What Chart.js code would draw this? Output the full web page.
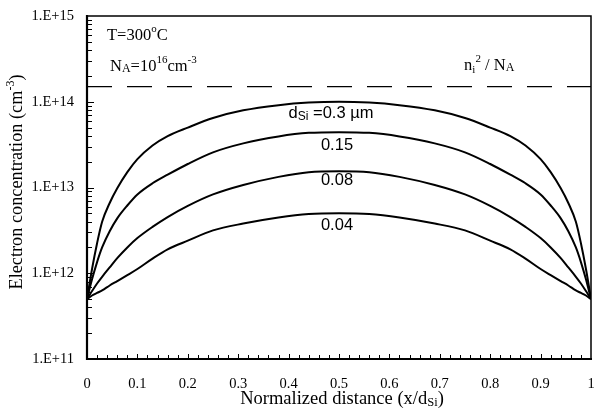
<!DOCTYPE html>
<html>
<head>
<meta charset="utf-8">
<script src="https://cdn.jsdelivr.net/npm/chart.js@4"></script>
<style>
  html, body { margin: 0; padding: 0; background: #fff; }
  #wrap { width: 596px; height: 418px; position: relative; }
</style>
</head>
<body>
<div id="wrap"><canvas id="c" width="596" height="418"></canvas></div>
<script>
// ---- data ----
const xPos = [0, 0.01, 0.02, 0.03, 0.045, 0.06, 0.08, 0.1, 0.13, 0.16, 0.2, 0.25, 0.31, 0.38, 0.44, 0.5,
              0.56, 0.62, 0.69, 0.75, 0.8, 0.84, 0.87, 0.9, 0.92, 0.94, 0.955, 0.97, 0.98, 0.99, 1];
const n030 = [5.0e11, 1.12e12, 2.24e12, 3.98e12, 6.6e12, 9.8e12, 1.51e13, 2.14e13, 3.09e13, 3.98e13, 5.0e13, 6.46e13, 7.94e13, 9.12e13, 9.77e13, 1.0e14,
              9.77e13, 9.12e13, 7.94e13, 6.46e13, 5.0e13, 3.98e13, 3.09e13, 2.14e13, 1.51e13, 9.8e12, 6.6e12, 3.98e12, 2.24e12, 1.12e12, 5.0e11];
const n015 = [5.0e11, 8.5e11, 1.35e12, 2.0e12, 3.09e12, 4.37e12, 6.17e12, 8.3e12, 1.12e13, 1.41e13, 1.88e13, 2.57e13, 3.27e13, 3.94e13, 4.34e13, 4.42e13,
              4.34e13, 3.94e13, 3.27e13, 2.57e13, 1.88e13, 1.41e13, 1.12e13, 8.3e12, 6.17e12, 4.37e12, 3.09e12, 2.0e12, 1.35e12, 8.5e11, 5.0e11];
const n008 = [5.0e11, 6.2e11, 7.6e11, 9.1e11, 1.17e12, 1.5e12, 2.0e12, 2.57e12, 3.47e12, 4.52e12, 6.1e12, 8.3e12, 1.07e13, 1.33e13, 1.51e13, 1.55e13,
              1.51e13, 1.33e13, 1.07e13, 8.3e12, 6.1e12, 4.52e12, 3.47e12, 2.57e12, 2.0e12, 1.5e12, 1.17e12, 9.1e11, 7.6e11, 6.2e11, 5.0e11];
const n004 = [5.0e11, 5.5e11, 5.9e11, 6.3e11, 7.2e11, 8.1e11, 9.5e11, 1.12e12, 1.48e12, 1.9e12, 2.4e12, 3.16e12, 3.8e12, 4.47e12, 4.9e12, 5.0e12,
              4.9e12, 4.47e12, 3.8e12, 3.16e12, 2.4e12, 1.9e12, 1.48e12, 1.12e12, 9.5e11, 8.1e11, 7.2e11, 6.3e11, 5.9e11, 5.5e11, 5.0e11];
const niLimitX = [0, 1];
const niLimitY = [1.5e14, 1.5e14];
const seriesNames = ['0.3', '0.15', '0.08', '0.04'];
const xTickValues = [0, 0.1, 0.2, 0.3, 0.4, 0.5, 0.6, 0.7, 0.8, 0.9, 1];
const yTickValues = [1e11, 1e12, 1e13, 1e14, 1e15];
const yTickLabels = ['1.E+11', '1.E+12', '1.E+13', '1.E+14', '1.E+15'];

const SERIF = '"Liberation Serif", "Times New Roman", serif';
const SANS = '"Liberation Sans", Arial, sans-serif';

function pts(xs, ys) { return xs.map((x, i) => ({ x: x, y: ys[i] })); }

const curveStyle = {
  borderColor: '#000', borderWidth: 2, pointRadius: 0, fill: false,
  cubicInterpolationMode: 'monotone'
};

// rich text helper: parts = [{t, size, dy, font}]
function drawRich(ctx, parts, x, y, align) {
  let total = 0;
  parts.forEach(p => { ctx.font = p.size + 'px ' + (p.font || SERIF); p.w = ctx.measureText(p.t).width; total += p.w; });
  let cx = align === 'center' ? x - total / 2 : (align === 'right' ? x - total : x);
  ctx.textAlign = 'left';
  ctx.textBaseline = 'alphabetic';
  parts.forEach(p => {
    ctx.font = p.size + 'px ' + (p.font || SERIF);
    ctx.fillText(p.t, cx, y + (p.dy || 0));
    cx += p.w;
  });
}

const decor = {
  id: 'decor',
  afterDraw(chart) {
    const ctx = chart.ctx;
    const xs = chart.scales.x, ys = chart.scales.y;
    const a = chart.chartArea;
    ctx.save();
    ctx.fillStyle = '#000';
    ctx.strokeStyle = '#000';

    // frame
    ctx.lineWidth = 1.5;
    ctx.beginPath();
    ctx.moveTo(a.left, a.top); ctx.lineTo(a.right, a.top); ctx.lineTo(a.right, a.bottom);
    ctx.stroke();
    ctx.lineWidth = 2.2;
    ctx.beginPath();
    ctx.moveTo(a.left, a.top - 1); ctx.lineTo(a.left, a.bottom); ctx.lineTo(a.right + 1, a.bottom);
    ctx.stroke();

    // x ticks (inward) every 0.02
    ctx.lineWidth = 1;
    for (let i = 1; i < 50; i++) {
      const px = Math.round(xs.getPixelForValue(i / 50)) + 0.5;
      const len = (i % 5 === 0) ? 5 : 4;
      ctx.beginPath(); ctx.moveTo(px, a.bottom); ctx.lineTo(px, a.bottom - len); ctx.stroke();
    }
    // y ticks (inward), log minors
    for (let e = 11; e < 15; e++) {
      for (let m = 1; m <= 9; m++) {
        const v = m * Math.pow(10, e);
        const py = Math.round(ys.getPixelForValue(v)) + 0.5;
        const len = (m === 1) ? 7 : 5;
        ctx.beginPath(); ctx.moveTo(a.left, py); ctx.lineTo(a.left + len, py); ctx.stroke();
      }
    }

    // annotations
    const X = v => xs.getPixelForValue(v);
    const Y = v => ys.getPixelForValue(v);
    drawRich(ctx, [{t: 'T=300', size: 16.5}, {t: 'o', size: 11, dy: -8}, {t: 'C', size: 16.5}], a.left + 20, 40, 'left');
    drawRich(ctx, [{t: 'N', size: 16.5}, {t: 'A', size: 12, dy: 1}, {t: '=10', size: 16.5}, {t: '16', size: 11, dy: -8},
                   {t: 'cm', size: 16.5}, {t: '-3', size: 11, dy: -8}], a.left + 23, 71, 'left');
    drawRich(ctx, [{t: 'n', size: 16.5}, {t: 'i', size: 11, dy: 3}, {t: '2', size: 11, dy: -8}, {t: ' / N', size: 16.5},
                   {t: 'A', size: 12, dy: 1}], X(0.80) - 1, 70, 'center');

    drawRich(ctx, [{t: 'd', size: 16.5, font: SANS}, {t: 'Si', size: 12, font: SANS, dy: 2}, {t: ' =0.3 \u00b5m', size: 16.5, font: SANS}],
             X(0.5) - 8, Y(n030[15]) + 16.5, 'center');
    drawRich(ctx, [{t: seriesNames[1], size: 16.5, font: SANS}], X(0.5) - 2, Y(n015[15]) + 18, 'center');
    drawRich(ctx, [{t: seriesNames[2], size: 16.5, font: SANS}], X(0.5) - 2, Y(n008[15]) + 14, 'center');
    drawRich(ctx, [{t: seriesNames[3], size: 16.5, font: SANS}], X(0.5) - 2, Y(n004[15]) + 17, 'center');

    // axis titles
    drawRich(ctx, [{t: 'Normalized distance (x/d', size: 18.5}, {t: 'Si', size: 12.5, dy: 2}, {t: ')', size: 18.5}],
             (a.left + a.right) / 2 + 3, 404, 'center');
    ctx.save();
    ctx.translate(22, 182);
    ctx.rotate(-Math.PI / 2);
    drawRich(ctx, [{t: 'Electron concentration (cm', size: 18.3}, {t: '-3', size: 12, dy: -8}, {t: ')', size: 18.3}], 0, 0, 'center');
    ctx.restore();

    ctx.restore();
  }
};

new Chart(document.getElementById('c'), {
  type: 'line',
  data: {
    datasets: [
      Object.assign({ label: seriesNames[0], data: pts(xPos, n030) }, curveStyle),
      Object.assign({ label: seriesNames[1], data: pts(xPos, n015) }, curveStyle),
      Object.assign({ label: seriesNames[2], data: pts(xPos, n008) }, curveStyle),
      Object.assign({ label: seriesNames[3], data: pts(xPos, n004) }, curveStyle),
      { label: 'ni2/NA', data: pts(niLimitX, niLimitY), borderColor: '#000', borderWidth: 1.3,
        borderDash: [25, 15], pointRadius: 0, fill: false, tension: 0 }
    ]
  },
  options: {
    responsive: false,
    animation: false,
    devicePixelRatio: 1,
    layout: { padding: { top: 16, right: 5, left: 0, bottom: 0 } },
    plugins: { legend: { display: false }, tooltip: { enabled: false }, title: { display: false } },
    scales: {
      x: {
        type: 'linear', min: 0, max: 1,
        grid: { display: false, drawTicks: false },
        border: { display: false },
        afterBuildTicks: s => { s.ticks = xTickValues.map(v => ({ value: v })); },
        ticks: {
          padding: 16, color: '#000', maxRotation: 0, autoSkip: false,
          font: { family: SERIF, size: 14.5 },
          callback: v => String(Math.round(v * 10) / 10)
        },
        afterFit: s => { s.height = 59; s.paddingLeft = 0; s.paddingRight = 0; }
      },
      y: {
        type: 'logarithmic', min: 1e11, max: 1e15,
        grid: { display: false, drawTicks: false },
        border: { display: false },
        afterBuildTicks: s => { s.ticks = yTickValues.map(v => ({ value: v })); },
        ticks: {
          padding: 13, color: '#000', autoSkip: false,
          font: { family: SERIF, size: 14.5 },
          callback: v => yTickLabels[yTickValues.findIndex(t => Math.abs(Math.log10(t) - Math.log10(v)) < 1e-6)]
        },
        afterFit: s => { s.width = 87; s.paddingTop = 0; s.paddingBottom = 0; }
      }
    }
  },
  plugins: [decor]
});
</script>
</body>
</html>
